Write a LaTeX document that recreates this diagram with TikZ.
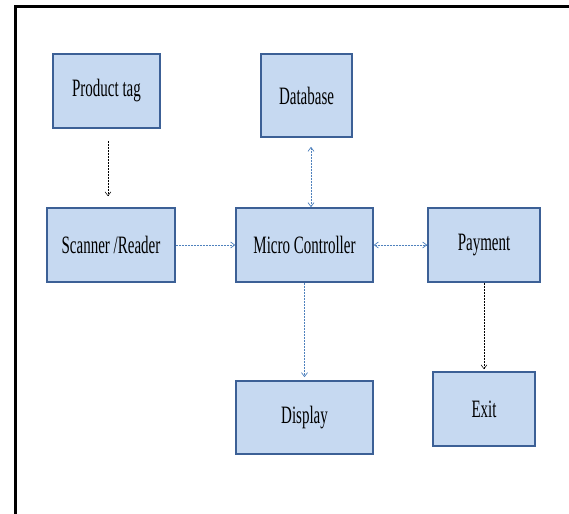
\documentclass[tikz,border=0pt]{standalone}
\usepackage{fontspec}
\setmainfont{Liberation Serif}
\newfontfamily\boxfont[FakeStretch=0.6]{Liberation Serif}
\usetikzlibrary{arrows.meta}
\definecolor{boxfill}{RGB}{198,217,241}
\definecolor{boxline}{RGB}{60,96,150}
\definecolor{linkblue}{RGB}{79,129,189}

\begin{document}
\begin{tikzpicture}[x=1bp,y=-1bp,>={Straight Barb[length=4bp,width=6bp]},
    block/.style={draw=boxline,fill=boxfill,line width=1.6bp,inner sep=0pt,minimum height=74bp,
      font=\boxfont\fontsize{25bp}{25bp}\selectfont},
    link/.style={->,linkblue,line width=0.7bp,dash pattern=on 2bp off 1bp},
    flow/.style={->,black,line width=0.5bp,dash pattern=on 2bp off 1bp}]

    \useasboundingbox (0,0) rectangle (569,514);
    \draw[line width=3bp] (15.3,514) -- (15.3,6.5) -- (569,6.5);

    \node[block,minimum width=107bp] (pt) at (106.5,91) {Product tag};
    \node[block,minimum width=91bp,minimum height=83bp] (db) at (306.5,95.5) {Database};
    \node[block,minimum width=128bp] (sr) at (111,245) {Scanner /Reader};
    \node[block,minimum width=137bp] (mc) at (304.5,245) {Micro Controller};
    \node[block,minimum width=112bp] (pay) at (484,245) {Payment};
    \node[block,minimum width=137bp,minimum height=73bp] (disp) at (304.5,417.5) {Display};
    \node[block,minimum width=102bp] (exit) at (484,409) {Exit};

    \coordinate (ptout) at ([xshift=1.5bp]pt.south);
    \coordinate (dbout) at ([xshift=4.5bp]db.south);

    \draw[flow,shorten <=12bp,shorten >=11bp] (ptout) -- (ptout |- sr.north);
    \draw[link,<->,shorten <=9bp] (dbout) -- (dbout |- mc.north);
    \draw[link] (sr) -- (mc);
    \draw[link,<->] (mc) -- (pay);
    \draw[link,shorten >=3bp] (mc) -- (disp);
    \draw[flow,shorten >=2bp] (pay) -- (exit);
\end{tikzpicture}
\end{document}
